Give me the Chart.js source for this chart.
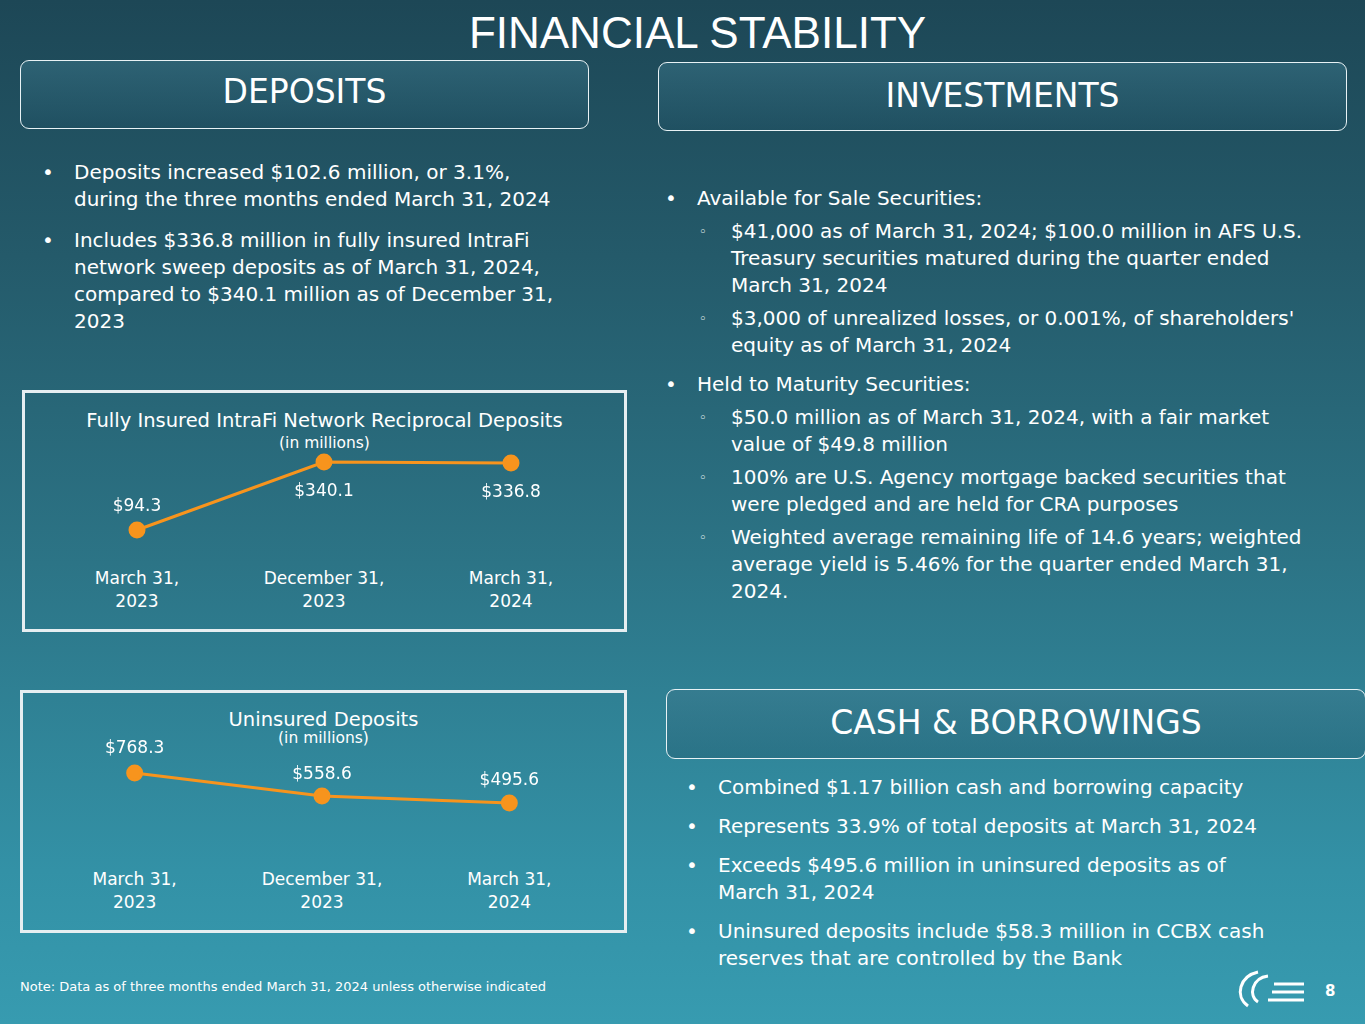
<!DOCTYPE html>
<html><head><meta charset="utf-8">
<script src="https://cdn.jsdelivr.net/npm/chart.js@4.4.1/dist/chart.umd.min.js"></script>
<style>
body{margin:0;width:1365px;height:1024px;overflow:hidden;font-family:"DejaVu Sans",Verdana,sans-serif;color:#fff;
background:linear-gradient(180deg,#1d4756 0%,#245a6a 25%,#2c7486 55%,#3391a6 85%,#379bb0 100%);position:relative}
.abs{position:absolute}
.hdr{position:absolute;border:1.5px solid #e8f2f5;border-radius:9px;background:linear-gradient(180deg,rgba(60,120,140,.5),rgba(30,80,100,.35));text-align:center;font-size:33px;color:#fff}
ul{margin:0;padding:0;list-style:none;white-space:nowrap}
li{position:relative;font-size:20px;line-height:27px;margin-bottom:12px}
li.b:before{content:"•";position:absolute;left:-32px}
li.s{margin-left:34px;margin-bottom:6px}
li.s:before{content:"◦";position:absolute;left:-32px;font-size:13px}
.box{position:absolute;border:3px solid #e6eef1}
.ct{position:absolute;text-align:center;font-size:19.5px}
.xl{position:absolute;text-align:center;font-size:17px;line-height:23px;width:160px}
</style></head><body>
<div class="abs" style="left:0;width:1395px;top:8px;text-align:center;font-size:44px;font-family:'Liberation Sans',Arial">FINANCIAL STABILITY</div>
<div class="hdr" style="left:20px;top:60px;width:567px;height:67px;line-height:62px">DEPOSITS</div>
<div class="hdr" style="left:658px;top:62px;width:687px;height:67px;line-height:66px">INVESTMENTS</div>
<div class="hdr" style="left:666px;top:689px;width:698px;height:68px;line-height:66px">CASH &amp; BORROWINGS</div>

<ul class="abs" style="left:74px;top:159px">
<li class="b" style="margin-bottom:14px">Deposits increased $102.6 million, or 3.1%,<br>during the three months ended March 31, 2024</li>
<li class="b">Includes $336.8 million in fully insured IntraFi<br>network sweep deposits as of March 31, 2024,<br>compared to $340.1 million as of December 31,<br>2023</li>
</ul>
<ul class="abs" style="left:697px;top:185px">
<li class="b" style="margin-bottom:6px">Available for Sale Securities:</li>
<li class="s">$41,000 as of March 31, 2024; $100.0 million in AFS U.S.<br>Treasury securities matured during the quarter ended<br>March 31, 2024</li>
<li class="s" style="margin-bottom:12px">$3,000 of unrealized losses, or 0.001%, of shareholders'<br>equity as of March 31, 2024</li>
<li class="b" style="margin-bottom:6px">Held to Maturity Securities:</li>
<li class="s">$50.0 million as of March 31, 2024, with a fair market<br>value of $49.8 million</li>
<li class="s">100% are U.S. Agency mortgage backed securities that<br>were pledged and are held for CRA purposes</li>
<li class="s">Weighted average remaining life of 14.6 years; weighted<br>average yield is 5.46% for the quarter ended March 31,<br>2024.</li>
</ul>
<ul class="abs" style="left:718px;top:774px">
<li class="b">Combined $1.17 billion cash and borrowing capacity</li>
<li class="b">Represents 33.9% of total deposits at March 31, 2024</li>
<li class="b">Exceeds $495.6 million in uninsured deposits as of<br>March 31, 2024</li>
<li class="b">Uninsured deposits include $58.3 million in CCBX cash<br>reserves that are controlled by the Bank</li>
</ul>

<div class="box" style="left:22px;top:390px;width:599px;height:236px"></div>
<div class="ct" style="left:22px;top:409px;width:605px">Fully Insured IntraFi Network Reciprocal Deposits</div>
<div class="ct" style="left:22px;top:434px;width:605px;font-size:15.5px">(in millions)</div>
<div class="box" style="left:20px;top:690px;width:601px;height:237px"></div>
<div class="ct" style="left:20px;top:708px;width:607px">Uninsured Deposits</div>
<div class="ct" style="left:20px;top:729px;width:607px;font-size:15.5px">(in millions)</div>
<div id="xl"></div>

<canvas id="c1" class="abs" style="left:22px;top:390px"></canvas>
<canvas id="c2" class="abs" style="left:20px;top:690px"></canvas>

<div class="abs" style="left:20px;top:979px;font-size:13px">Note: Data as of three months ended March 31, 2024 unless otherwise indicated</div>
<div class="abs" style="left:1325px;top:982px;font-size:15px;font-weight:bold">8</div>
<svg class="abs" style="left:1228px;top:966px" width="80" height="48" viewBox="0 0 80 48" fill="none" stroke="#fff" stroke-width="3">
<path d="M30 6 C12 10 6 30 20 40"/><path d="M40 10 C24 12 20 30 30 36"/><path d="M46 18 h30"/><path d="M44 26 h32"/><path d="M40 34 h36"/></svg>

<script>
const categories=["March 31,\n2023","December 31,\n2023","March 31,\n2024"];
const insured=[94.3,340.1,336.8];
const uninsured=[768.3,558.6,495.6];
const insuredLabels=["$94.3","$340.1","$336.8"];
const uninsuredLabels=["$768.3","$558.6","$495.6"];

const lbl={id:'lbl',afterDatasetsDraw(ch,a,o){const c=ch.ctx;const m=ch.getDatasetMeta(0);c.save();c.fillStyle='#fff';c.font='17px "DejaVu Sans",Verdana';c.textAlign='center';
m.data.forEach((p,i)=>{c.fillText(o.t[i],p.x,p.y+o.dy[i]);});c.restore();}};
function mk(id,w,data,t,dy,min,max,pl,pr,xtop,xoff){
 const cv=document.getElementById(id);cv.width=w;cv.height=242;cv.style.width=w+'px';cv.style.height='242px';
 const ch=new Chart(cv,{type:'line',data:{labels:categories,datasets:[{data,borderColor:'#f7941d',backgroundColor:'#f7941d',borderWidth:3,pointRadius:7,pointHoverRadius:7,tension:0}]},
 options:{responsive:false,animation:false,devicePixelRatio:1,layout:{padding:{left:pl,right:pr,top:50,bottom:72}},
 plugins:{legend:{display:false},tooltip:{enabled:false},lbl:{t,dy}},
 scales:{x:{offset:true,display:false},y:{display:false,min,max}}},plugins:[lbl]});
 const m=ch.getDatasetMeta(0);let h='';
 m.data.forEach((p,i)=>{h+=`<div class="xl" style="left:${xoff+p.x-80}px;top:${xtop}px">${categories[i].replace('\n','<br>')}</div>`;});
 document.getElementById('xl').innerHTML+=h;
}
mk('c1',605,insured,insuredLabels,[-19,34,34],-14.2,419.6,21.5,22.5,567,22);
mk('c2',607,uninsured,uninsuredLabels,[-20,-17,-18],-22,1068,21,24,868,20);
</script>
</body></html>
